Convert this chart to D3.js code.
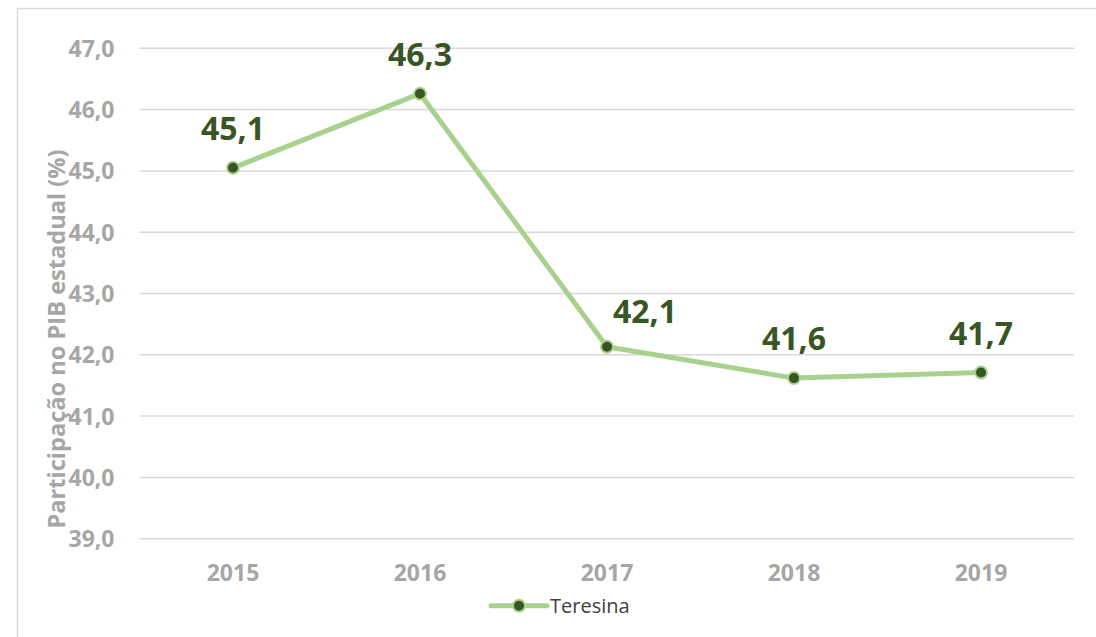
<!DOCTYPE html>
<html><head><meta charset="utf-8">
<script src="https://cdn.jsdelivr.net/npm/d3@7"></script>
<style>body{margin:0;background:#fff}svg{display:block}</style>
</head><body>
<svg id="c" width="1096" height="637"></svg>
<script>
const years = ["2015","2016","2017","2018","2019"];
const values = [45.05, 46.26, 42.13, 41.62, 41.71];
const labels = ["45,1","46,3","42,1","41,6","41,7"];
const yTicks = [39,40,41,42,43,44,45,46,47];
const seriesName = "Teresina";
const axisTitle = "Participação no PIB estadual (%)";

const svg = d3.select("#c");
const font = "'Open Sans', sans-serif";
const lineColor = "#a9d18e", dark = "#375623", gridColor = "#d9d9d9", tickColor = "#a6a6a6";

svg.append("rect").attr("x",17.5).attr("y",8.5).attr("width",1200).attr("height",800)
  .attr("fill","#fff").attr("stroke",gridColor).attr("stroke-width",1.5);

const x = d3.scaleBand().domain(years).range([139.5,1074.5]);
const y = d3.scaleLinear().domain([39,47]).range([538.7,48.3]);

svg.append("g").selectAll("line").data(yTicks).join("line")
  .attr("x1",139.5).attr("x2",1074.5)
  .attr("y1",d=>y(d)).attr("y2",d=>y(d))
  .attr("stroke",gridColor).attr("stroke-width",1.5);

const yAxis = svg.append("g").attr("transform","translate(139.5,0)")
  .call(d3.axisLeft(y).tickValues(yTicks).tickSize(0).tickPadding(25)
    .tickFormat(d=>d3.format(".1f")(d).replace(".",",")));
yAxis.select(".domain").remove();
yAxis.selectAll("text").attr("fill",tickColor).attr("font-family",font)
  .attr("font-weight","bold").attr("font-size",23).attr("dy","0.35em");

const xAxis = svg.append("g").attr("transform","translate(0,538.7)")
  .call(d3.axisBottom(x).tickSize(0).tickPadding(26));
xAxis.select(".domain").remove();
xAxis.selectAll("text").attr("fill",tickColor).attr("font-family",font)
  .attr("font-weight","bold").attr("font-size",23).attr("dy","0.71em");

svg.append("text").attr("transform","translate(65,339) rotate(-90)")
  .attr("text-anchor","middle").attr("fill",tickColor).attr("font-family",font)
  .attr("font-weight","bold").attr("font-size",23.6).text(axisTitle);

const cx = d => x(d) + x.bandwidth()/2;
const line = d3.line().x((d,i)=>cx(years[i])).y(d=>y(d));
svg.append("path").datum(values).attr("d",line).attr("fill","none")
  .attr("stroke",lineColor).attr("stroke-width",5).attr("stroke-linejoin","round");

svg.append("g").selectAll("circle").data(values).join("circle")
  .attr("cx",(d,i)=>cx(years[i])).attr("cy",d=>y(d)).attr("r",6)
  .attr("fill",dark).attr("stroke",lineColor).attr("stroke-width",2);

// label placement: "above" except the 2017 label which sits above-right
const labelShift = (i) => i === 2 ? {dx: 38, dy: -24} : {dx: 0, dy: -28};
svg.append("g").selectAll("text").data(values).join("text")
  .attr("x",(d,i)=>cx(years[i]) + labelShift(i).dx).attr("y",(d,i)=>y(d) + labelShift(i).dy)
  .attr("text-anchor","middle").attr("fill",dark).attr("font-family",font)
  .attr("font-weight","bold").attr("font-size",32).text((d,i)=>labels[i]);

const lg = svg.append("g");
lg.append("line").attr("x1",491).attr("x2",547).attr("y1",605.7).attr("y2",605.7)
  .attr("stroke",lineColor).attr("stroke-width",5).attr("stroke-linecap","round");
lg.append("circle").attr("cx",519).attr("cy",605.7).attr("r",6)
  .attr("fill",dark).attr("stroke",lineColor).attr("stroke-width",2);
lg.append("text").attr("x",550).attr("y",612.5).attr("fill","#404040")
  .attr("font-family",font).attr("font-size",20).text(seriesName);
</script>
</body></html>
